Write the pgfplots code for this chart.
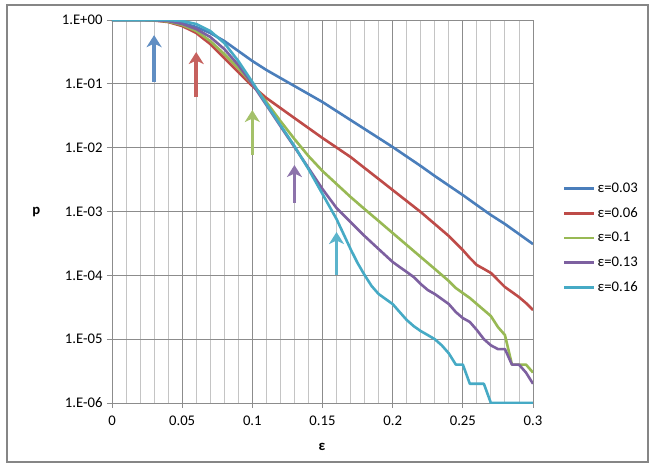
\documentclass[border=0pt]{standalone}
\usepackage{fontspec}
\setmainfont{Carlito}
\usepackage{pgfplots}
\pgfplotsset{compat=1.18}
\usetikzlibrary{arrows.meta}

\definecolor{sBlue}{HTML}{4A7EBB}
\definecolor{sRed}{HTML}{BE4B48}
\definecolor{sGreen}{HTML}{98B954}
\definecolor{sPurple}{HTML}{7D60A0}
\definecolor{sCyan}{HTML}{46AAC5}
\definecolor{gridMajor}{HTML}{8C8C8C}
\definecolor{gridMinor}{HTML}{C4C4C4}
\definecolor{frameGray}{HTML}{868686}

\newcommand{\chartfont}{\fontsize{14.7}{17}\selectfont}

\begin{document}
\begin{tikzpicture}[x=1pt,y=1pt]
\useasboundingbox (0,0) rectangle (657,475);
\fill[white] (0,0) rectangle (657,475);
\draw[frameGray, line width=1.2pt] (7,13) rectangle (648,470);
\begin{axis}[
  at={(112pt,72pt)}, anchor=south west,
  scale only axis, width=421pt, height=383pt,
  xmin=0, xmax=0.3,
  ymode=log, ymin=1e-6, ymax=1,
  xtick={0,0.05,0.1,0.15,0.2,0.25,0.3},
  xticklabels={0,0.05,0.1,0.15,0.2,0.25,0.3},
  minor x tick num=4,
  ytick={1e-6,1e-5,1e-4,1e-3,1e-2,1e-1,1},
  yticklabels={1.E-06,1.E-05,1.E-04,1.E-03,1.E-02,1.E-01,1.E+00},
  /pgf/number format/assume math mode=true,
  xmajorgrids, xminorgrids, ymajorgrids,
  major grid style={draw=gridMajor, line width=0.9pt},
  minor grid style={draw=gridMinor, line width=0.9pt},
  axis line style={draw=gridMajor, line width=0.9pt},
  tick pos=left, tick align=outside,
  major tick length=5pt, minor tick length=0pt,
  tick style={draw=gridMajor, line width=0.9pt},
  minor y tick style={draw=none},
  tick label style={font=\chartfont},
  xticklabel style={yshift=-4pt},
  yticklabel style={xshift=-1pt},
  xlabel={\textbf{ε}},
  xlabel style={at={(axis description cs:0.499,-0.115)}, anchor=center, font=\chartfont},
  ylabel={\textbf{p}},
  ylabel style={rotate=-90, at={(axis description cs:-0.18,0.499)}, anchor=center, font=\chartfont},
  legend style={at={(axis description cs:1.071,0.431)}, anchor=west,
    draw=none, fill=none, font=\chartfont, inner sep=0pt,
    row sep=9.5pt,
    /tikz/every even column/.append style={column sep=3pt}},
  legend cell align=left,
  legend image code/.code={\draw[#1] (0pt,0pt) -- (30pt,0pt);},
  every axis plot/.append style={line width=2.6pt, line join=round},
  marker/.style={forget plot, line width=3.4pt,
    -{Stealth[length=12pt,width=15pt,inset=3.5pt]}},
]

% design-point markers
\addplot[marker, sBlue!88!white] coordinates {(0.03,0.107) (0.03,0.58)};
\addplot[marker, sRed!88!white] coordinates {(0.06,0.0622) (0.06,0.315)};
\addplot[marker, sGreen!88!white] coordinates {(0.1,0.00767) (0.1,0.0389)};
\addplot[marker, sPurple!88!white] coordinates {(0.13,0.00136) (0.13,0.00535)};
\addplot[marker, sCyan!88!white] coordinates {(0.16,0.000101) (0.16,0.000477)};

% eps = 0.03
\addplot[sBlue] table {
x y
0.00 1
0.01 1
0.02 1
0.03 0.989
0.04 0.965
0.05 0.897
0.06 0.777
0.07 0.626
0.08 0.469
0.09 0.327
0.10 0.228
0.11 0.165
0.12 0.1234
0.13 0.0925
0.14 0.0693
0.15 0.0519
0.16 0.0375
0.17 0.0271
0.18 0.0196
0.19 0.01417
0.20 0.01024
0.21 0.00727
0.22 0.00516
0.23 0.0036
0.24 0.00255
0.25 0.00181
0.26 0.00126
0.27 0.000881
0.28 0.000637
0.29 0.000444
0.30 0.000309
};
\addlegendentry{ε=0.03}

% eps = 0.06
\addplot[sRed] table {
x y
0.00 1
0.01 1
0.02 1
0.03 0.982
0.04 0.930
0.05 0.805
0.06 0.626
0.07 0.421
0.08 0.254
0.09 0.1532
0.10 0.0925
0.11 0.060
0.12 0.0418
0.13 0.0291
0.14 0.0203
0.15 0.01417
0.16 0.01006
0.17 0.00714
0.18 0.0048
0.19 0.00323
0.20 0.00217
0.21 0.00146
0.22 0.000982
0.23 0.000637
0.24 0.000413
0.25 0.000249
0.255 0.000187
0.26 0.000145
0.265 0.000126
0.27 0.000109
0.275 8.45e-5
0.28 6.56e-5
0.285 5.48e-5
0.29 4.57e-5
0.295 3.68e-5
0.30 2.86e-5
};
\addlegendentry{ε=0.06}

% eps = 0.1
\addplot[sGreen] table {
x y
0.00 1
0.01 1
0.02 1
0.03 0.99
0.04 0.947
0.05 0.835
0.06 0.673
0.07 0.469
0.08 0.293
0.09 0.177
0.10 0.0994
0.11 0.0519
0.12 0.0262
0.13 0.01367
0.14 0.0074
0.15 0.00431
0.16 0.0027
0.17 0.00169
0.18 0.00109
0.19 0.00071
0.20 0.00046
0.21 0.000299
0.22 0.000194
0.23 0.000126
0.24 8.15e-5
0.245 6.33e-5
0.25 5.28e-5
0.255 4.41e-5
0.26 3.55e-5
0.265 2.86e-5
0.27 2.3e-5
0.275 1.55e-5
0.28 1.16e-5
0.285 4e-6
0.29 4e-6
0.295 4e-6
0.30 3e-6
};
\addlegendentry{ε=0.1}

% eps = 0.13
\addplot[sPurple] table {
x y
0.00 1
0.01 1
0.02 1
0.03 0.993
0.04 0.965
0.05 0.866
0.06 0.723
0.07 0.542
0.08 0.351
0.09 0.197
0.10 0.0994
0.11 0.0466
0.12 0.0218
0.13 0.01024
0.14 0.0048
0.15 0.00225
0.16 0.001134
0.17 0.000684
0.18 0.000413
0.19 0.000258
0.20 0.000162
0.205 0.000135
0.21 0.000113
0.215 9.4e-5
0.22 7.31e-5
0.225 5.89e-5
0.23 5.1e-5
0.235 4.26e-5
0.24 3.55e-5
0.245 2.66e-5
0.25 2.14e-5
0.255 1.86e-5
0.26 1.39e-5
0.265 1.0e-5
0.27 8e-6
0.275 7e-6
0.28 7e-6
0.285 4e-6
0.29 4e-6
0.295 3e-6
0.30 2e-6
};
\addlegendentry{ε=0.13}

% eps = 0.16
\addplot[sCyan] table {
x y
0.00 1
0.01 1
0.02 1
0.03 1
0.04 0.998
0.05 0.965
0.06 0.866
0.07 0.673
0.08 0.436
0.09 0.228
0.10 0.1068
0.11 0.0483
0.12 0.0226
0.13 0.0106
0.14 0.00463
0.15 0.00188
0.16 0.000762
0.165 0.000444
0.17 0.000258
0.175 0.000156
0.18 0.000101
0.185 6.8e-5
0.19 5.1e-5
0.195 4.25e-5
0.20 3.55e-5
0.205 2.66e-5
0.21 2.0e-5
0.215 1.6e-5
0.22 1.34e-5
0.225 1.16e-5
0.23 1.0e-5
0.235 8e-6
0.24 6e-6
0.245 4e-6
0.25 4e-6
0.255 2e-6
0.26 2e-6
0.265 2e-6
0.27 1e-6
0.28 1e-6
0.29 1e-6
0.30 1e-6
};
\addlegendentry{ε=0.16}

\end{axis}
\end{tikzpicture}
\end{document}
